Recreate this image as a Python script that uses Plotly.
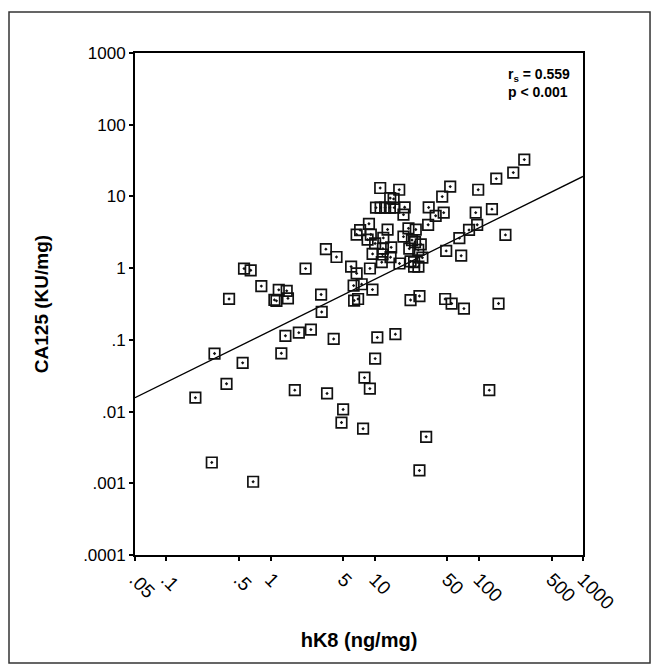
import plotly.graph_objects as go

# hK8 (ng/mg) and CA125 (KU/mg) values
hk8 = [273, 214, 147, 98.6, 53.1, 44.5, 11.3, 17.2, 14.1, 15.2,
       10.3, 11.4, 12.6, 14.0, 15.4, 19.4, 18.9, 33.0, 38.5, 46.0,
       32.6, 93.3, 133.6, 96.4, 80.5, 65.0, 180, 48.6, 67.7, 8.81,
       7.25, 6.71, 9.18, 8.55, 10.1, 12.1, 13.3, 18.9, 21.1, 24.8,
       22.8, 24.4, 27.7, 26.2, 21.5, 14.4, 12.0, 11.9, 9.55, 11.7,
       14.2, 22.1, 23.9, 23.9, 26.3, 17.3, 28.7, 4.30, 3.40, 5.94,
       6.71, 9.01, 6.28, 7.50, 9.52, 6.35, 6.93, 22.1, 26.9, 47.5,
       54.8, 71.9, 154.5, 2.17, 0.557, 0.645, 0.816, 1.20, 1.43, 0.400,
       1.09, 1.14, 1.47, 3.06, 3.10, 0.290, 0.190, 0.378, 0.540, 1.39,
       1.87, 2.44, 1.27, 4.04, 10.6, 15.8, 10.1, 7.98, 8.99, 1.71,
       3.49, 4.98, 4.80, 7.74, 0.273, 0.681, 126, 31.2, 26.9]
ca125 = [32.6, 21.5, 17.7, 12.4, 13.7, 9.94, 13.1, 12.4, 9.47, 9.23,
         6.98, 6.98, 6.98, 6.98, 6.98, 7.05, 5.57, 7.02, 5.37, 5.94,
         4.02, 5.94, 6.65, 4.02, 3.41, 2.62, 2.91, 1.74, 1.49, 4.15,
         3.39, 2.94, 2.94, 2.50, 2.21, 2.64, 3.45, 2.75, 3.59, 3.45,
         2.46, 2.31, 2.15, 1.80, 1.87, 1.95, 1.87, 1.55, 1.58, 1.21,
         1.42, 1.24, 1.21, 1.05, 1.05, 1.16, 1.40, 1.43, 1.84, 1.05,
         0.845, 0.989, 0.571, 0.596, 0.502, 0.353, 0.371, 0.359, 0.408, 0.371,
         0.321, 0.273, 0.321, 0.986, 0.986, 0.933, 0.562, 0.498, 0.482, 0.372,
         0.361, 0.350, 0.379, 0.428, 0.245, 0.0644, 0.0156, 0.0244, 0.0478, 0.114,
         0.126, 0.139, 0.0649, 0.103, 0.108, 0.120, 0.0548, 0.0297, 0.0209, 0.0199,
         0.0179, 0.0107, 0.00703, 0.00577, 0.00195, 0.00105, 0.0199, 0.00445, 0.00151]

# regression line end points (log-log fit)
fit_x = [0.05, 1000]
fit_y = [0.0156, 19.0]

x_ticks = [0.05, 0.1, 0.5, 1, 5, 10, 50, 100, 500, 1000]
x_labels = [".05", ".1", ".5", "1", "5", "10", "50", "100", "500", "1000"]
y_ticks = [0.0001, 0.001, 0.01, 0.1, 1, 10, 100, 1000]
y_labels = [".0001", ".001", ".01", ".1", "1", "10", "100", "1000"]

FONT = "Liberation Sans, Arial, Helvetica, sans-serif"

fig = go.Figure()
fig.add_trace(go.Scatter(
    x=fit_x, y=fit_y, mode="lines",
    line=dict(color="black", width=1.3), hoverinfo="skip", showlegend=False))
fig.add_trace(go.Scatter(
    x=hk8, y=ca125, mode="markers",
    marker=dict(symbol="square-open-dot", size=10.5, color="#111111",
                line=dict(width=1.7, color="#111111")),
    showlegend=False))

axis_common = dict(type="log", showgrid=False, zeroline=False, showline=True,
                   linecolor="black", linewidth=1.8, mirror=True,
                   ticks="outside", ticklen=4, tickwidth=2, tickcolor="black",
                   automargin=False)

fig.update_xaxes(range=[-1.30103, 3], tickvals=x_ticks, ticktext=x_labels,
                 tickangle=45, tickfont=dict(family=FONT, size=19, color="black"),
                 title=dict(text="<b>hK8 (ng/mg)</b>", standoff=20,
                            font=dict(family=FONT, size=20, color="black")),
                 **axis_common)
fig.update_yaxes(range=[-4, 3], tickvals=y_ticks, ticktext=y_labels,
                 tickfont=dict(family=FONT, size=17, color="black"),
                 title=dict(text="<b>CA125 (KU/mg)</b>", standoff=30,
                            font=dict(family=FONT, size=19, color="black")),
                 **axis_common)

fig.add_annotation(
    x=0.975, y=0.979, xref="paper", yref="paper", xanchor="right", yanchor="top",
    text="<b>r<sub>s</sub> = 0.559</b><br><b>p < 0.001</b>", showarrow=False,
    align="left", font=dict(family=FONT, size=14, color="black"))

# outer frame around the whole figure
fig.add_shape(type="rect", xref="paper", yref="paper",
              x0=-0.28125, x1=1.1496, y0=-0.2151, y1=1.0817,
              line=dict(color="#333333", width=1.5))

fig.update_layout(
    width=659, height=671,
    margin=dict(l=127, r=84, t=45, b=124),
    paper_bgcolor="white", plot_bgcolor="white",
    font=dict(family=FONT, color="black"),
)

fig.write_html("out.html")
